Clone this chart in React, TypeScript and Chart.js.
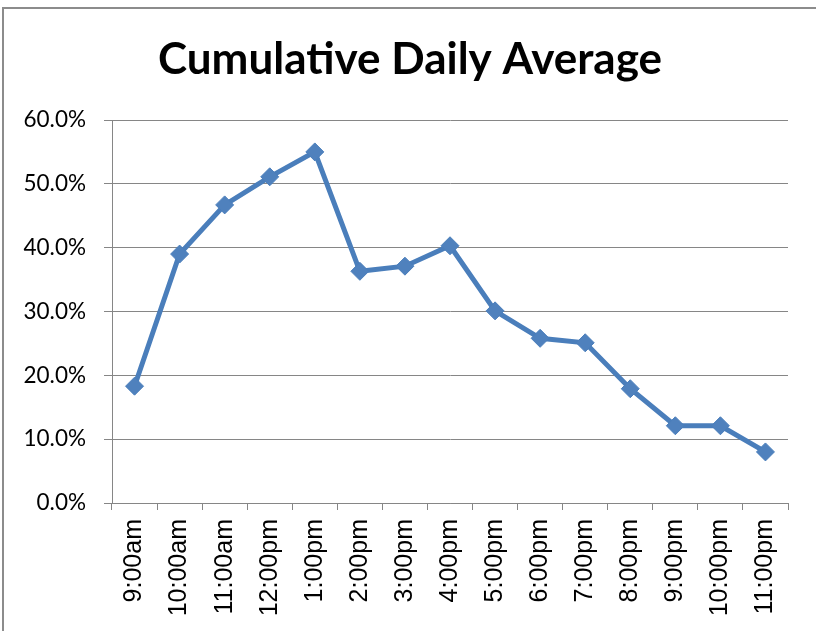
import React, { useEffect, useRef } from "react";
import { Chart, registerables } from "chart.js";

Chart.register(...registerables);

const TITLE = "Cumulative Daily Average";
const CATEGORIES = [
  "9:00am", "10:00am", "11:00am", "12:00pm", "1:00pm", "2:00pm", "3:00pm", "4:00pm",
  "5:00pm", "6:00pm", "7:00pm", "8:00pm", "9:00pm", "10:00pm", "11:00pm",
];
const VALUES = [18.3, 39.0, 46.7, 51.1, 55.0, 36.3, 37.1, 40.3, 30.1, 25.8, 25.1, 17.9, 12.1, 12.1, 8.0];
const Y_MIN = 0;
const Y_MAX = 60;
const Y_STEP = 10;

const FONT = "Lato, 'Open Sans', sans-serif";
const X_FONT = "'Liberation Sans', Arial, sans-serif";

const frameAndTitlePlugin = {
  id: "frameAndTitle",
  beforeDraw(chart: any) {
    const ctx = chart.ctx;
    ctx.save();
    ctx.strokeStyle = "#8c8c8c";
    ctx.lineWidth = 2;
    ctx.strokeRect(3, 8, 900, 700);
    ctx.restore();
  },
  afterDraw(chart: any) {
    const ctx = chart.ctx;
    ctx.save();
    ctx.fillStyle = "#000";
    ctx.font = `bold 44px ${FONT}`;
    ctx.textAlign = "center";
    ctx.textBaseline = "middle";
    ctx.fillText(TITLE, 410, 60);
    ctx.restore();
  },
};

export default function App() {
  const ref = useRef<HTMLCanvasElement | null>(null);
  useEffect(() => {
    document.body.style.margin = "0";
    const canvas = ref.current!;
    const chart = new Chart(canvas, {
      type: "line",
      data: {
        labels: CATEGORIES,
        datasets: [
          {
            data: VALUES,
            borderColor: "#4A7EBB",
            backgroundColor: "#4F81BD",
            pointBackgroundColor: "#4F81BD",
            pointBorderColor: "#4A7EBB",
            borderWidth: 5,
            pointStyle: "rectRot",
            pointRadius: 9,
            pointBorderWidth: 1,
            tension: 0,
          },
        ],
      },
      options: {
        animation: false,
        responsive: false,
        devicePixelRatio: 1,
        layout: { padding: { top: 120, left: 0, right: 28, bottom: 0 } },
        plugins: {
          legend: { display: false },
          tooltip: { enabled: false },
          title: { display: false },
        },
        scales: {
          x: {
            type: "category",
            offset: true,
            grid: {
              offset: true,
              drawOnChartArea: false,
              drawTicks: true,
              tickLength: 7,
              color: "#868686",
              lineWidth: 1,
            },
            border: { color: "#868686", width: 1 },
            ticks: {
              color: "#000",
              font: { family: X_FONT, size: 25 },
              minRotation: 90,
              maxRotation: 90,
              padding: 9,
              autoSkip: false,
            },
            afterFit(scale: any) {
              scale.height = 128;
            },
          },
          y: {
            min: Y_MIN,
            max: Y_MAX,
            grid: { color: "#868686", lineWidth: 1, tickLength: 8 },
            border: { color: "#868686", width: 1 },
            ticks: {
              stepSize: Y_STEP,
              color: "#000",
              font: { family: FONT, size: 22.5 },
              padding: 18,
              callback: (v: any) => Number(v).toFixed(1) + "%",
            },
            afterFit(scale: any) {
              scale.width = 112;
            },
          },
        },
      },
      plugins: [frameAndTitlePlugin],
    });
    return () => chart.destroy();
  }, []);
  return (
    <div style={{ width: 816, height: 631, position: "relative", background: "#fff" }}>
      <canvas ref={ref} width={816} height={631} style={{ display: "block" }} />
    </div>
  );
}
